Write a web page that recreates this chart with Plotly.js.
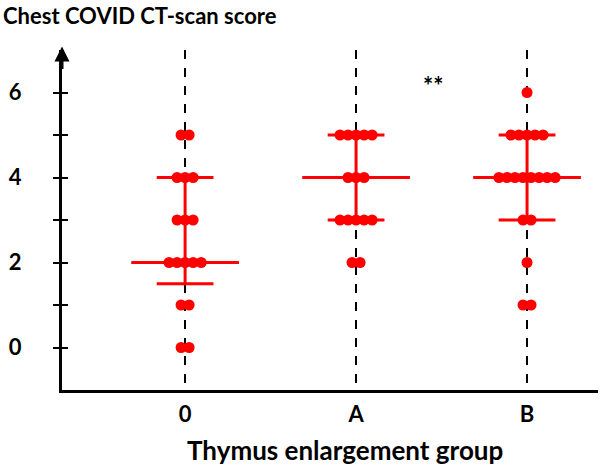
<!DOCTYPE html>
<html>
<head>
<meta charset="utf-8">
<script src="https://cdn.plot.ly/plotly-3.0.1.min.js"></script>
<style>html,body{margin:0;padding:0;background:#fff;}#chart{width:602px;height:466px;}</style>
</head>
<body>
<div id="chart"></div>
<script>
// ---- data ----
var groups = ['0', 'A', 'B'];
var group0 = [0, 0, 1, 1, 2, 2, 2, 2, 2, 3, 3, 3, 4, 4, 4, 5, 5];
var groupA = [2, 2, 3, 3, 3, 3, 3, 4, 4, 4, 5, 5, 5, 5, 5];
var groupB = [1, 1, 2, 3, 3, 4, 4, 4, 4, 4, 4, 4, 4, 5, 5, 5, 5, 5, 6];
var medians = [2, 4, 4];
var q1 = [1.5, 3, 3];
var q3 = [4, 5, 5];
var sigLabel = '**';
var sigPos = {x: 1.45, y: 6.17};

// ---- build ----
var RED = '#ff0000';
var spacing = 0.047;
var medHalf = 0.315, qHalf = 0.166;
var allGroups = [group0, groupA, groupB];
var traces = [];

// summary lines
allGroups.forEach(function (vals, g) {
  traces.push({
    type: 'scatter', mode: 'lines', hoverinfo: 'skip', showlegend: false,
    x: [g - medHalf, g + medHalf, null, g - qHalf, g + qHalf, null, g - qHalf, g + qHalf, null, g, g],
    y: [medians[g], medians[g], null, q1[g], q1[g], null, q3[g], q3[g], null, q1[g], q3[g]],
    line: {color: RED, width: 3}
  });
});

// beeswarm points
allGroups.forEach(function (vals, g) {
  var counts = {};
  vals.forEach(function (v) { counts[v] = (counts[v] || 0) + 1; });
  var seen = {};
  var xs = [], ys = [];
  vals.forEach(function (v) {
    var n = counts[v];
    var i = seen[v] || 0;
    seen[v] = i + 1;
    xs.push(g + (i - (n - 1) / 2) * spacing);
    ys.push(v);
  });
  traces.push({
    type: 'scatter', mode: 'markers', showlegend: false,
    x: xs, y: ys,
    marker: {color: RED, size: 11, line: {width: 0}}
  });
});

// invisible trace to activate the overlay axis (inside ticks)
traces.push({type: 'scatter', mode: 'markers', x: [0], y: [0], yaxis: 'y2', showlegend: false,
  marker: {opacity: 0}, hoverinfo: 'skip'});

var yTickVals = [0, 1, 2, 3, 4, 5, 6];
var yTickText = yTickVals.map(function (v) { return v % 2 === 0 ? String(v) : ''; });

var layout = {
  width: 602, height: 466,
  margin: {l: 62, r: 4, t: 50, b: 76},
  paper_bgcolor: '#fff', plot_bgcolor: '#fff',
  font: {family: 'Lato, "Open Sans", sans-serif', color: '#000'},
  xaxis: {
    range: [-0.72, 2.415],
    tickvals: [0, 1, 2], ticktext: groups,
    showgrid: true, gridcolor: '#000', gridwidth: 1.5, griddash: 'dash',
    zeroline: false, showline: true, linecolor: '#000', linewidth: 3,
    ticks: '', ticklabelstandoff: 3,
    tickfont: {size: 22, family: 'Lato, sans-serif', weight: 'bold'}
  },
  yaxis: {
    range: [-1, 7],
    tickvals: yTickVals, ticktext: yTickText,
    showgrid: false, zeroline: false, showline: true, linecolor: '#000', linewidth: 3,
    ticks: 'outside', ticklen: 6, tickwidth: 2, tickcolor: '#000',
    ticklabelstandoff: 27,
    tickfont: {size: 22, family: 'Lato, sans-serif', weight: 'bold'}
  },
  yaxis2: {
    overlaying: 'y', side: 'left', range: [-1, 7],
    tickvals: yTickVals, showticklabels: false,
    showgrid: false, zeroline: false, showline: false,
    ticks: 'inside', ticklen: 6, tickwidth: 2, tickcolor: '#000'
  },
  annotations: [
    {xref: 'paper', yref: 'paper', x: 0, y: 1.01, ax: 0, ay: 24, axref: 'pixel', ayref: 'pixel',
     text: '', showarrow: true, arrowhead: 2, arrowsize: 1, arrowwidth: 3, arrowcolor: '#000'},
    {xref: 'paper', yref: 'paper', x: -0.114, y: 1.1, xanchor: 'left', yanchor: 'middle',
     text: '<b>Chest COVID CT-scan score</b>', showarrow: false, font: {size: 22, family: 'Lato, sans-serif'}},
    {xref: 'paper', yref: 'paper', x: 0.528, y: -0.175, xanchor: 'center', yanchor: 'middle',
     text: '<b>Thymus enlargement group</b>', showarrow: false, font: {size: 26, family: 'Lato, sans-serif'}},
    {xref: 'x', yref: 'y', x: sigPos.x, y: sigPos.y, text: '<b>' + sigLabel + '</b>', showarrow: false,
     font: {size: 24, family: 'Lato, sans-serif'}}
  ]
};

Plotly.newPlot('chart', traces, layout, {displayModeBar: false, staticPlot: true});
</script>
</body>
</html>
